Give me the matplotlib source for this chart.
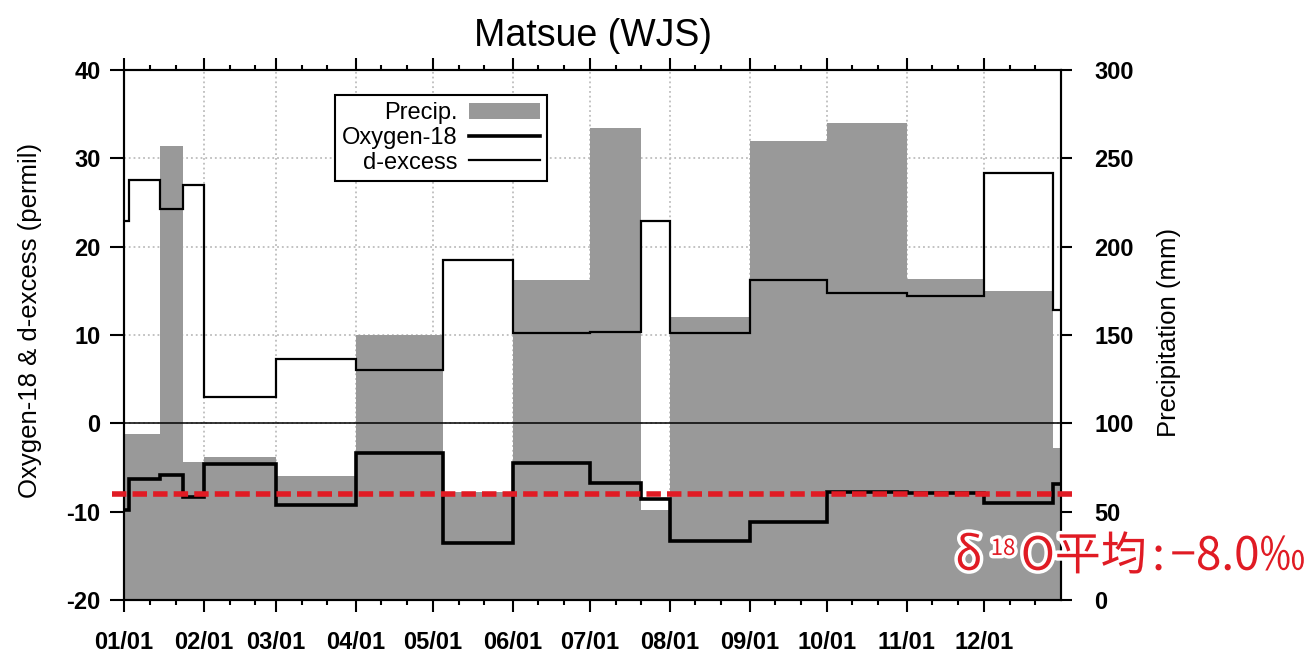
import matplotlib
matplotlib.use("Agg")
import matplotlib.pyplot as plt
import matplotlib.dates as mdates
import matplotlib.patheffects as pe
import numpy as np

plt.rcParams['font.family'] = ['Liberation Sans', 'Noto Sans CJK JP', 'DejaVu Sans']
plt.rcParams['axes.unicode_minus'] = False

year = "2013"

# isotope sampling periods (edges) and values, permil
iso_edges = ["01-01", "01-03", "01-15", "01-24", "02-01", "03-01", "04-01", "05-05",
             "06-01", "07-01", "07-21", "08-01", "09-01", "10-01", "11-01", "12-01",
             "12-28", "12-31"]
d_excess = [22.9, 27.6, 24.3, 27.0, 3.0, 7.3, 6.0, 18.5, 10.2, 10.3, 22.9, 10.2,
            16.2, 14.8, 14.4, 28.4, 12.8]
oxygen18 = [-9.8, -6.3, -5.8, -8.3, -4.6, -9.3, -3.4, -13.6, -4.5, -6.8, -8.6, -13.3,
            -11.2, -7.8, -7.9, -9.0, -6.9]

# precipitation periods (edges) and amounts, mm
prc_edges = ["01-01", "01-15", "01-24", "02-01", "03-01", "04-01", "05-05", "06-01",
             "07-01", "07-21", "08-01", "09-01", "10-01", "11-01", "12-01", "12-28",
             "12-31"]
precip = [94, 257, 78, 81, 70, 150, 61, 181, 267, 51, 160, 260, 270, 182, 175, 86]

o18_mean = -8.0
mean_label = ["δ", "18", "O平均", ":", "−8.0‰"]


def to_num(days):
    return mdates.date2num(np.array([np.datetime64(year + "-" + d) for d in days]))


iso_x = to_num(iso_edges)
prc_x = to_num(prc_edges)

fig = plt.figure(figsize=(13.11, 6.55), dpi=100)
axp = fig.add_axes([0.0946, 0.084, 0.7147, 0.809])
axi = axp.twinx()

axp.yaxis.tick_right()
axp.yaxis.set_label_position('right')
axi.yaxis.tick_left()
axi.yaxis.set_label_position('left')

# Precipitation bars (right axis)
h_p = axp.stairs(precip, prc_x, fill=True, baseline=0, color='#999999', label='Precip.')

# Isotope steps (left axis)
h_o = axi.stairs(oxygen18, iso_x, baseline=None, color='black', lw=2.6, label='Oxygen-18')
h_d = axi.stairs(d_excess, iso_x, baseline=None, color='black', lw=1.6, label='d-excess')
axi.axhline(0, color='black', lw=1.1)

red = '#e01b24'
axi.plot([-0.013, 1.018], [o18_mean, o18_mean], transform=axi.get_yaxis_transform(),
         color=red, lw=4.0, linestyle=(0, (2.6, 1.1)), clip_on=False, zorder=5)

# Axes setup
axp.set_xlim(iso_x[0], iso_x[-1])
axp.set_ylim(0, 300)
axp.set_yticks(range(0, 301, 50))
axi.set_ylim(-20, 40)
axi.set_yticks(range(-20, 41, 10))

axp.xaxis.set_major_locator(mdates.MonthLocator())
axp.xaxis.set_minor_locator(mdates.DayLocator(bymonthday=[11, 21]))
axp.xaxis.set_major_formatter(mdates.DateFormatter('%m/%d'))

axp.tick_params(axis='x', which='both', top=True, bottom=True, direction='out',
                width=1.5, colors='black')
axp.tick_params(axis='x', which='major', length=8.5, pad=14, labelsize=17)
axp.tick_params(axis='x', which='minor', length=3.5)
axp.tick_params(axis='y', direction='out', length=8, width=1.5, pad=16, labelsize=17)
axi.tick_params(axis='y', direction='out', length=10, width=1.5, pad=7, labelsize=17)

for lab in axp.get_xticklabels() + axp.get_yticklabels() + axi.get_yticklabels():
    lab.set_fontweight('bold')

axp.grid(True, which='major', axis='both', color='#bdbdbd', linestyle=':', linewidth=1.3)
axp.set_axisbelow(True)

for a in (axp, axi):
    for s in a.spines.values():
        s.set_linewidth(1.5)
        s.set_color('black')

axi.set_ylabel('Oxygen-18 & d-excess (permil)', fontsize=18.5)
axi.yaxis.set_label_coords(-0.0875, 0.528)
axp.set_ylabel('Precipitation (mm)', fontsize=18.5)
axp.yaxis.set_label_coords(1.1025, 0.505)

pos = axp.get_position()
fig.text(pos.x0 + pos.width / 2, 0.93, 'Matsue (WJS)', ha='center', va='baseline',
         fontsize=27)

leg = axi.legend(handles=[h_p, h_o, h_d], loc='upper left', bbox_to_anchor=(0.225, 0.953),
                 borderaxespad=0, markerfirst=False, fontsize=17, handlelength=3.0,
                 handletextpad=0.5, labelspacing=0.12, borderpad=0.3, fancybox=False,
                 framealpha=1, edgecolor='black')
leg.get_frame().set_linewidth(1.5)
leg.set_zorder(10)

# mean label in red with white halo, built piece by piece
halo = [pe.withStroke(linewidth=5, foreground='white')]
cjk = ['Noto Sans CJK JP', 'DejaVu Sans']
style = dict(color=red, family=cjk, ha='left', path_effects=halo, zorder=12)
t1 = axi.text(0.887, 0.057, mean_label[0], transform=axi.transAxes, fontsize=33,
              va='baseline', clip_on=False, **style)
t2 = axi.annotate(mean_label[1], xy=(1, 0), xycoords=t1, xytext=(6, 15),
                  textcoords='offset points', fontsize=16, va='bottom', **style)
t3 = axi.annotate(mean_label[2], xy=(1, 0), xycoords=t2, xytext=(4, -15),
                  textcoords='offset points', fontsize=33, va='bottom', **style)
t4 = axi.annotate(mean_label[3], xy=(1, 0), xycoords=t3, xytext=(4, 0),
                  textcoords='offset points', fontsize=33, va='bottom', **style)
t5 = axi.annotate(mean_label[4], xy=(1, 0), xycoords=t4, xytext=(4, 0),
                  textcoords='offset points', fontsize=33, va='bottom', **style)

fig.savefig('out.png', dpi=100)
